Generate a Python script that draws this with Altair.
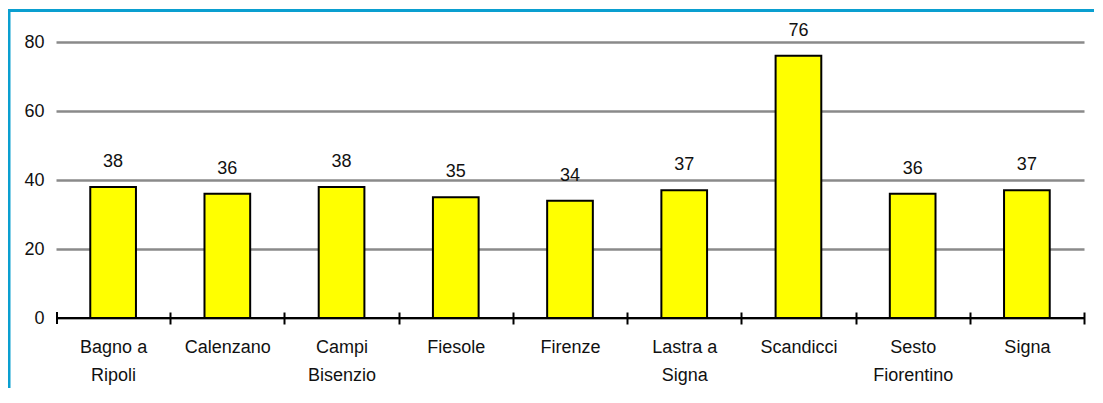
import altair as alt
import pandas as pd

categories = ["Bagno a\nRipoli", "Calenzano", "Campi\nBisenzio", "Fiesole", "Firenze",
              "Lastra a\nSigna", "Scandicci", "Sesto\nFiorentino", "Signa"]
values = [38, 36, 38, 35, 34, 37, 76, 36, 37]
y_ticks = [0, 20, 40, 60, 80]

df = pd.DataFrame({"comune": categories, "valore": values})

FONT = "Liberation Sans Narrow, Arial Narrow, Liberation Sans, sans-serif"
BLUE = "#0a9fd0"
W, H = 1028, 276
STEP = W / len(categories)

x_enc = alt.X("comune:N", sort=categories,
              scale=alt.Scale(paddingInner=0.6, paddingOuter=0.3),
              axis=alt.Axis(title=None, labelAngle=0, domain=False, tickBand="center",
                            tickOffset=STEP / 2, labelOffset=-STEP / 2,
                            tickSize=12, tickWidth=2, tickColor="black", offset=-6,
                            labelExpr="split(datum.label, '\\n')",
                            labelFont=FONT, labelFontSize=18, labelColor="#111",
                            labelLineHeight=28, labelPadding=14, labelBaseline="top"))
y_enc = alt.Y("valore:Q", scale=alt.Scale(domain=[0, 80], nice=False),
              axis=alt.Axis(title=None, values=y_ticks, grid=True, gridColor="#8a8a8a",
                            gridWidth=2.5, domain=False, ticks=False,
                            labelFont=FONT, labelFontSize=18, labelColor="#111",
                            labelPadding=12))

bars = alt.Chart(df).mark_bar(color="#ffff00", stroke="black", strokeWidth=2).encode(
    x=x_enc, y=y_enc)

labels = alt.Chart(df).mark_text(font=FONT, fontSize=18, color="#111",
                                 baseline="bottom", dy=-16).encode(
    x=alt.X("comune:N", sort=categories), y="valore:Q", text="valore:Q")

zero = pd.DataFrame({"v": [0]})
base_line = alt.Chart(zero).mark_rule(color="black", strokeWidth=2).encode(
    y="v:Q", x=alt.value(0), x2=alt.value(W))

frame = alt.Data(values=[{}])
first_tick = alt.Chart(frame).mark_rule(color="black", strokeWidth=2).encode(
    x=alt.value(1), y=alt.value(H - 6), y2=alt.value(H + 6))
left_border = alt.Chart(frame).mark_rule(color=BLUE, strokeWidth=3).encode(
    x=alt.value(-47), y=alt.value(-31.5), y2=alt.value(400))
top_border = alt.Chart(frame).mark_rule(color=BLUE, strokeWidth=3).encode(
    x=alt.value(-48.5), x2=alt.value(1050), y=alt.value(-31.5))

chart = alt.layer(bars, base_line, first_tick, labels, left_border, top_border).properties(
    width=W, height=H,
    autosize=alt.AutoSizeParams(type="none"),
    padding={"left": 48, "top": 34, "right": 10, "bottom": 70},
).configure_view(stroke=None)

chart.save("out.html", embed_options={"renderer": "svg", "actions": False})
